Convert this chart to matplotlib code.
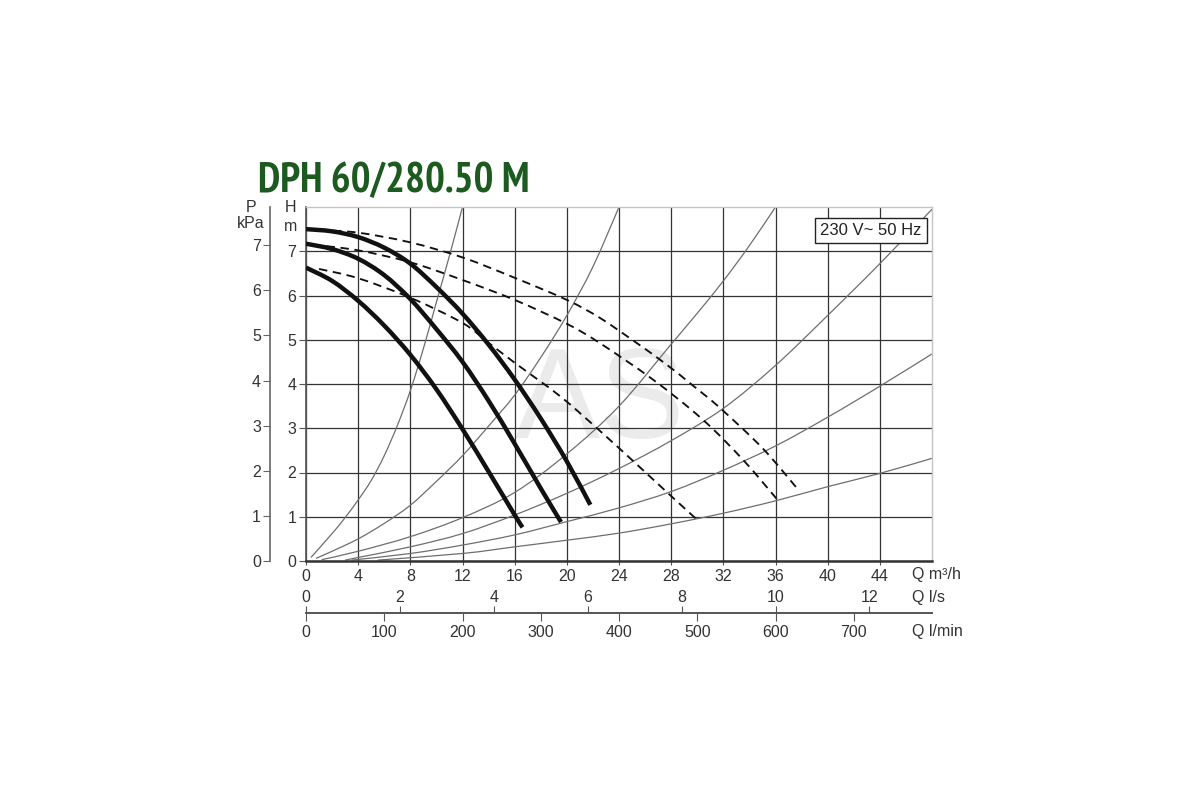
import numpy as np
import matplotlib
matplotlib.use("Agg")
import matplotlib.pyplot as plt
from matplotlib.path import Path
from matplotlib.patches import PathPatch

plt.rcParams['font.family'] = ['Liberation Sans', 'DejaVu Sans']

# ---------------- data ----------------
title_text = "DPH 60/280.50 M"
supply_text = "230 V~ 50 Hz"
watermark_text = "AS"

q_ticks = [0, 4, 8, 12, 16, 20, 24, 28, 32, 36, 40, 44]      # Q m3/h
h_ticks = [0, 1, 2, 3, 4, 5, 6, 7]                            # H m
p_ticks = [0, 1, 2, 3, 4, 5, 6, 7]                            # P kPa (x10)
ls_ticks = [0, 2, 4, 6, 8, 10, 12]                            # Q l/s
lmin_ticks = [0, 100, 200, 300, 400, 500, 600, 700]           # Q l/min

# pump curves (solid, three speeds)
pump_a_q = [0, 2, 4, 6, 8, 10, 12, 14, 16, 18, 20, 21.8]
pump_a_h = [7.5, 7.45, 7.32, 7.08, 6.72, 6.19, 5.59, 4.89, 4.1, 3.22, 2.25, 1.27]
pump_b_q = [0, 2, 4, 6, 8, 10, 12, 14, 16, 18, 19.55]
pump_b_h = [7.17, 7.05, 6.83, 6.46, 5.92, 5.24, 4.5, 3.62, 2.65, 1.64, 0.88]
pump_c_q = [0, 2, 4, 6, 8, 10, 12, 14, 16, 16.6]
pump_c_h = [6.63, 6.33, 5.88, 5.32, 4.66, 3.88, 2.98, 2.02, 1.04, 0.76]

# dashed curves
dash_a_q = [1, 4, 8, 12, 16, 20, 22.5, 25, 27.6, 29.6, 31.7, 35, 37.6]
dash_a_h = [7.48, 7.42, 7.2, 6.86, 6.4, 5.9, 5.5, 5.0, 4.45, 3.98, 3.47, 2.55, 1.66]
dash_b_q = [0.5, 4, 8, 12, 16, 20, 22.5, 26.6, 30.4, 33.5, 36.1]
dash_b_h = [7.15, 7.02, 6.75, 6.35, 5.9, 5.36, 4.93, 4.1, 3.2, 2.29, 1.4]
dash_c_q = [1, 4, 8, 12, 14, 16, 19.5, 22.5, 25.3, 27.8, 30]
dash_c_h = [6.6, 6.39, 5.95, 5.38, 4.93, 4.48, 3.72, 2.95, 2.2, 1.52, 0.93]

# system curves (thin gray)
sys1_q = [0.38, 2, 3, 4, 5, 6, 7, 8, 9, 10, 11, 12]
sys1_h = [0.08, 0.62, 0.98, 1.38, 1.82, 2.38, 3.06, 3.85, 4.8, 5.85, 6.9, 8.0]
sys2_q = [0.77, 2, 4, 6, 8, 10, 12, 14, 16, 18, 20, 22, 24]
sys2_h = [0.06, 0.22, 0.5, 0.85, 1.26, 1.8, 2.38, 3.05, 3.75, 4.6, 5.55, 6.65, 8.0]
sys3_q = [1.2, 4, 8, 12, 16, 20, 24, 28, 30, 32, 34, 36]
sys3_h = [0.03, 0.22, 0.55, 0.98, 1.55, 2.42, 3.5, 4.9, 5.6, 6.33, 7.13, 8.0]
sys4_q = [3, 4, 8, 12, 16, 20, 24, 28, 32, 36, 40, 44, 48]
sys4_h = [0.02, 0.08, 0.32, 0.62, 1.04, 1.53, 2.09, 2.72, 3.45, 4.42, 5.55, 6.72, 7.95]
sys5_q = [3.5, 8, 12, 16, 20, 24, 28, 32, 36, 40, 44, 48]
sys5_h = [0.02, 0.17, 0.36, 0.59, 0.89, 1.2, 1.57, 2.05, 2.6, 3.25, 3.95, 4.68]
sys6_q = [5.5, 12, 16, 20, 24, 28, 32, 36, 40, 44, 48]
sys6_h = [0.02, 0.17, 0.32, 0.47, 0.63, 0.84, 1.08, 1.36, 1.68, 1.98, 2.32]

Q_MAX, H_MAX = 48, 8
M_PER_10KPA = 0.981      # P axis (10 kPa units) against H in m
M3H_PER_LS = 3.6
M3H_PER_LMIN = 0.06


def smooth_path(q, h):
    """Catmull-Rom curve through the read points, as a Bezier path."""
    pts = np.column_stack([q, h]).astype(float)
    n = len(pts)
    verts = [pts[0]]
    codes = [Path.MOVETO]
    for i in range(n - 1):
        p0 = pts[i - 1] if i > 0 else pts[i]
        p1 = pts[i]
        p2 = pts[i + 1]
        p3 = pts[i + 2] if i + 2 < n else pts[i + 1]
        verts += [p1 + (p2 - p0) / 6.0, p2 - (p3 - p1) / 6.0, p2]
        codes += [Path.CURVE4] * 3
    return Path(verts, codes)


def draw_curve(ax, q, h, **kw):
    patch = PathPatch(smooth_path(q, h), facecolor='none',
                      transform=ax.transData, **kw)
    ax.add_patch(patch)


fig = plt.figure(figsize=(12, 8), dpi=100)
fig.patch.set_facecolor('white')
ax = fig.add_axes([0.255, 0.29875, 0.5217, 0.4425])
ax.set_xlim(0, Q_MAX)
ax.set_ylim(0, H_MAX)

# grid
ax.set_axisbelow(True)
ax.set_xticks(q_ticks)
ax.set_yticks(h_ticks)
ax.grid(True, color='#333333', linewidth=0.9)

# spines
ax.spines['left'].set_color('#555555')
ax.spines['left'].set_linewidth(1.2)
ax.spines['bottom'].set_color('#333333')
ax.spines['bottom'].set_linewidth(1.8)
for s in ('top', 'right'):
    ax.spines[s].set_color('#c4c4c4')
    ax.spines[s].set_linewidth(1.0)

ax.tick_params(axis='y', length=5, pad=2, color='#555555',
               labelsize=11.5, labelcolor='#333333')
ax.tick_params(axis='x', length=3, pad=3, color='#555555',
               labelsize=11.5, labelcolor='#333333')

# watermark
ax.text(0.5, 0.494, watermark_text, transform=fig.transFigure,
        fontsize=92, color='#ebebeb', ha='center', va='center', zorder=0.3)

# system curves
for q, h in [(sys1_q, sys1_h), (sys2_q, sys2_h), (sys3_q, sys3_h),
             (sys4_q, sys4_h), (sys5_q, sys5_h), (sys6_q, sys6_h)]:
    draw_curve(ax, q, h, edgecolor='#6e6e6e', linewidth=0.9, zorder=2)

# dashed curves
for q, h in [(dash_a_q, dash_a_h), (dash_b_q, dash_b_h), (dash_c_q, dash_c_h)]:
    draw_curve(ax, q, h, edgecolor='#111111', linewidth=1.35,
               linestyle=(0, (4.5, 3)), zorder=3)

# pump curves
for q, h in [(pump_a_q, pump_a_h), (pump_b_q, pump_b_h), (pump_c_q, pump_c_h)]:
    draw_curve(ax, q, h, edgecolor='#111111', linewidth=3.2,
               capstyle='butt', zorder=4)

# supply box
ax.text(0.9026, 0.935, supply_text, transform=ax.transAxes, fontsize=12,
        ha='center', va='center', color='#222222', zorder=6,
        bbox=dict(boxstyle='square,pad=0.3', fc='white', ec='#222222', lw=1.0))

# P kPa axis
secp = ax.secondary_yaxis(-0.0575, functions=(lambda h: h * M_PER_10KPA,
                                               lambda p: p / M_PER_10KPA))
secp.set_yticks(p_ticks)
secp.tick_params(length=5, pad=1.5, color='#666666', labelsize=11.5,
                 labelcolor='#333333')
secp.spines['left'].set_color('#666666')
secp.spines['left'].set_linewidth(1.2)

# axis titles
ax.text(-0.024, 1.0, "H", transform=ax.transAxes, fontsize=11.5,
        ha='center', va='center', color='#333333')
ax.text(-0.024, 0.946, "m", transform=ax.transAxes, fontsize=11.5,
        ha='center', va='center', color='#333333')
ax.text(-0.088, 1.0, "P", transform=ax.transAxes, fontsize=11.5,
        ha='center', va='center', color='#333333')
ax.text(-0.088, 0.952, "kPa", transform=ax.transAxes, fontsize=11.5,
        ha='center', va='center', color='#333333')

# secondary flow scales
sec_lmin = ax.secondary_xaxis(-0.147, functions=(lambda q: q / M3H_PER_LMIN,
                                                  lambda v: v * M3H_PER_LMIN))
sec_lmin.set_xticks(lmin_ticks)
sec_lmin.tick_params(length=5.5, pad=3, color='#555555', labelsize=11.5,
                     labelcolor='#333333')
sec_lmin.spines['bottom'].set_color('#555555')
sec_lmin.spines['bottom'].set_linewidth(1.2)

sec_ls = ax.secondary_xaxis(-0.147, functions=(lambda q: q / M3H_PER_LS,
                                                lambda v: v * M3H_PER_LS))
sec_ls.set_alignment('top')
sec_ls.set_xticks(ls_ticks)
sec_ls.tick_params(length=5, pad=0.5, color='#555555', labelsize=11.5,
                   labelcolor='#333333')
sec_ls.spines['top'].set_color('#555555')
sec_ls.spines['top'].set_linewidth(1.2)

ax.text(0.968, -0.0395, "Q m³/h", transform=ax.transAxes, fontsize=11.5,
        ha='left', va='center', color='#333333')
ax.text(0.968, -0.1045, "Q l/s", transform=ax.transAxes, fontsize=11.5,
        ha='left', va='center', color='#333333')
ax.text(0.968, -0.198, "Q l/min", transform=ax.transAxes, fontsize=11.5,
        ha='left', va='center', color='#333333')

# title
fig.text(258 / 1200, 1 - 192 / 800, title_text, fontsize=30, fontweight='bold',
         family=['PT Sans Narrow', 'Roboto Condensed', 'Fira Sans Condensed',
                 'Archivo Narrow', 'DejaVu Sans'],
         color='#1c5a20', ha='left', va='baseline')

fig.savefig("out.png", dpi=100, facecolor='white')
